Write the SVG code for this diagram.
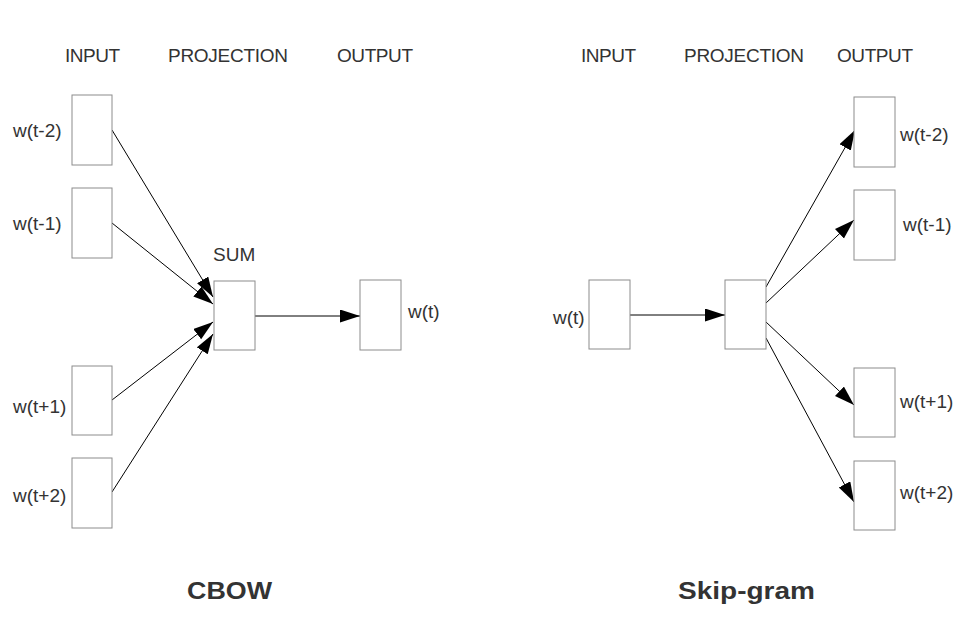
<svg xmlns="http://www.w3.org/2000/svg" width="964" height="622" viewBox="0 0 964 622">
<defs>
<style>
.box{fill:#fff;stroke:#8c8c8c;stroke-width:1}
.lbl{font-family:"Liberation Sans",Arial,sans-serif;font-size:19px;fill:#333}
.ttl{font-family:"Liberation Sans",Arial,sans-serif;font-size:23px;font-weight:bold;fill:#333}
.edge{stroke:#000;stroke-width:1;fill:none;marker-end:url(#ah)}
</style>
<marker id="ah" markerUnits="userSpaceOnUse" markerWidth="21" markerHeight="14" refX="20" refY="6.5" orient="auto">
<path d="M0,0 L20,6.5 L0,13 z" fill="#000"/>
</marker>
</defs>
<rect width="964" height="622" fill="#fff"/>
<g id="headers">
<text class="lbl" x="65" y="62" textLength="55">INPUT</text>
<text class="lbl" x="168" y="62" textLength="120">PROJECTION</text>
<text class="lbl" x="337" y="62" textLength="76">OUTPUT</text>
<text class="lbl" x="581" y="62" textLength="55">INPUT</text>
<text class="lbl" x="684" y="62" textLength="120">PROJECTION</text>
<text class="lbl" x="837" y="62" textLength="76">OUTPUT</text>
</g>
<g id="connectors">
<line class="edge" x1="112" y1="130" x2="213" y2="297"/>
<line class="edge" x1="112" y1="223" x2="213" y2="304"/>
<line class="edge" x1="112" y1="400" x2="213" y2="322"/>
<line class="edge" x1="112" y1="492" x2="213" y2="334"/>
<line class="edge" x1="255" y1="316" x2="360" y2="316"/>
<line class="edge" x1="629" y1="315" x2="725" y2="315"/>
<line class="edge" x1="766" y1="287" x2="855" y2="130"/>
<line class="edge" x1="766" y1="303" x2="854" y2="220"/>
<line class="edge" x1="766" y1="322" x2="854" y2="405"/>
<line class="edge" x1="766" y1="338" x2="854" y2="502"/>
</g>
<g id="cbow-in-t-2"><rect class="box" x="72" y="95" width="40" height="70"/><text class="lbl" x="13" y="137">w(t-2)</text></g>
<g id="cbow-in-t-1"><rect class="box" x="72" y="188" width="40" height="70"/><text class="lbl" x="13" y="230">w(t-1)</text></g>
<g id="cbow-in-t+1"><rect class="box" x="72" y="366" width="40" height="69"/><text class="lbl" x="13" y="413">w(t+1)</text></g>
<g id="cbow-in-t+2"><rect class="box" x="72" y="458" width="40" height="70"/><text class="lbl" x="13" y="502">w(t+2)</text></g>
<g id="cbow-sum"><rect class="box" x="214" y="281" width="41" height="69"/><text class="lbl" x="213" y="261">SUM</text></g>
<g id="cbow-out"><rect class="box" x="360" y="280" width="41" height="70"/><text class="lbl" x="408" y="318">w(t)</text></g>
<g id="sg-in"><rect class="box" x="589" y="280" width="41" height="69"/><text class="lbl" x="553" y="324">w(t)</text></g>
<g id="sg-proj"><rect class="box" x="725" y="280" width="41" height="69"/></g>
<g id="sg-out-t-2"><rect class="box" x="854" y="97" width="41" height="70"/><text class="lbl" x="900" y="141">w(t-2)</text></g>
<g id="sg-out-t-1"><rect class="box" x="854" y="190" width="41" height="70"/><text class="lbl" x="903" y="231">w(t-1)</text></g>
<g id="sg-out-t+1"><rect class="box" x="854" y="368" width="41" height="69"/><text class="lbl" x="900" y="408">w(t+1)</text></g>
<g id="sg-out-t+2"><rect class="box" x="854" y="461" width="41" height="69"/><text class="lbl" x="900" y="499">w(t+2)</text></g>
<g id="titles">
<text class="ttl" x="187" y="599" textLength="85" lengthAdjust="spacingAndGlyphs">CBOW</text>
<text class="ttl" x="678" y="599" textLength="137" lengthAdjust="spacingAndGlyphs">Skip-gram</text>
</g>
</svg>
